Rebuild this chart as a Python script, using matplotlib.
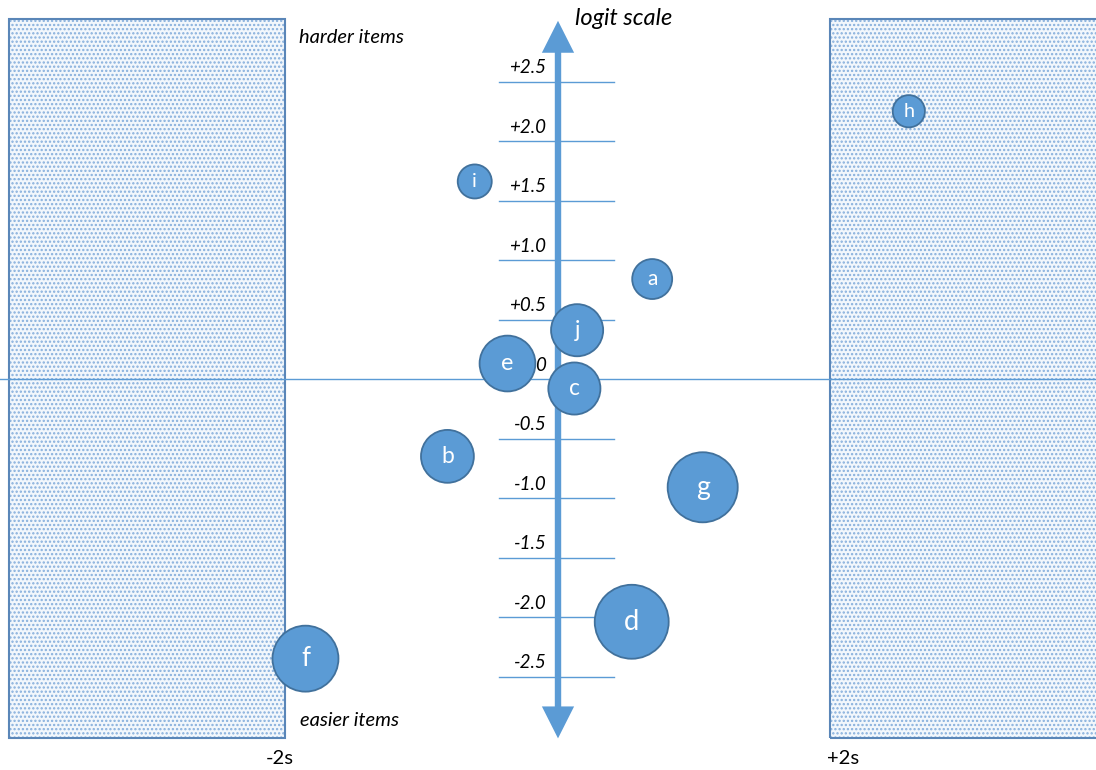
import matplotlib
matplotlib.use("Agg")
import matplotlib.pyplot as plt
from matplotlib.patches import Rectangle, FancyArrowPatch

# Item estimates: fit (in SD units) vs. difficulty (logits), bubble = relative size
items = ['a', 'b', 'c', 'd', 'e', 'f', 'g', 'h', 'i', 'j']
fit_s = [0.69, -0.81, 0.12, 0.54, -0.37, -1.85, 1.06, 2.57, -0.61, 0.14]
logit = [0.84, -0.65, -0.08, -2.04, 0.13, -2.35, -0.91, 2.25, 1.66, 0.41]
bubble = [4.0, 7.0, 6.8, 13.7, 7.8, 10.9, 12.3, 2.6, 2.9, 6.8]

tick_values = [2.5, 2.0, 1.5, 1.0, 0.5, -0.5, -1.0, -1.5, -2.0, -2.5]
tick_labels = ['+2.5', '+2.0', '+1.5', '+1.0', '+0.5', '-0.5', '-1.0', '-1.5', '-2.0', '-2.5']

BLUE = '#5b9bd5'
EDGE = '#41719c'
FONT = ['Lato', 'DejaVu Sans']
plt.rcParams['font.family'] = FONT

W, H = 1096, 770
fig = plt.figure(figsize=(W / 100, H / 100), dpi=100)
ax = fig.add_axes([0, 0, 1, 1])
px_x, px_y = 136.5, 119.0
ax.set_xlim(-558 / px_x, (W - 558) / px_x)
ax.set_ylim((379 - H) / px_y, 379 / px_y)
ax.axis('off')

# misfit zones beyond +/-2 SD
plt.rcParams['hatch.linewidth'] = 1.1
for x0 in (-4.02, 1.99):
    ax.add_patch(Rectangle((x0, -3.02), 2.02, 6.045, facecolor='#f2f7fc',
                           edgecolor='#86afdc', linewidth=0, hatch='....',
                           zorder=1))
    ax.add_patch(Rectangle((x0, -3.02), 2.02, 6.045, facecolor='none',
                           edgecolor='#5a86b8', linewidth=1.5, zorder=2))

# zero line
ax.axhline(0, color=BLUE, linewidth=1.0, zorder=2)

# logit ticks
for v, lab in zip(tick_values, tick_labels):
    ax.plot([-0.43, 0.41], [v, v], color=BLUE, linewidth=1.0, zorder=2)
    ax.text(-0.085, v + 0.045, lab, ha='right', va='bottom', fontsize=13.5,
            style='italic', color='black', zorder=3)
ax.text(-0.085, 0.045, '0', ha='right', va='bottom', fontsize=13.5,
        style='italic', color='black', zorder=3)

# double-headed logit axis: shaft plus filled heads
ax.plot([0, 0], [-2.85, 2.85], color=BLUE, linewidth=4.6,
        solid_capstyle='butt', zorder=3)
heads = FancyArrowPatch((0, -3.02), (0, 3.01),
                        arrowstyle='<|-|>,head_length=1.15,head_width=0.58',
                        mutation_scale=20, facecolor=BLUE, edgecolor='none',
                        linewidth=0, shrinkA=0, shrinkB=0, zorder=3)
ax.add_patch(heads)

# item bubbles
sizes = [b * 207 for b in bubble]
ax.scatter(fit_s, logit, s=sizes, color=BLUE, edgecolors=EDGE,
           linewidths=1.3, zorder=4)
for name, x, y, b in zip(items, fit_s, logit, bubble):
    fs = 13 + 0.5 * b
    ax.text(x, y, name, ha='center', va='center', color='white',
            fontsize=fs, zorder=5)

# annotations
ax.text(0.125, 3.03, 'logit scale', ha='left', va='center', fontsize=17,
        style='italic')
ax.text(-1.90, 2.87, 'harder items', ha='left', va='center', fontsize=14.5,
        style='italic')
ax.text(-1.89, -2.87, 'easier items', ha='left', va='center', fontsize=14.5,
        style='italic')
ax.text(-2.04, -3.19, '-2s', ha='center', va='center', fontsize=14.5)
ax.text(2.09, -3.19, '+2s', ha='center', va='center', fontsize=14.5)

fig.savefig('out.png', dpi=100)
